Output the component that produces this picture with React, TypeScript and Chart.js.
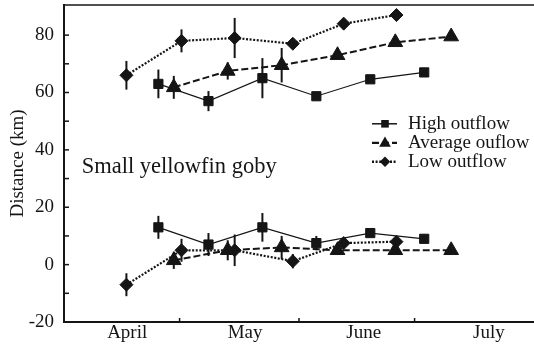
import React, { useEffect, useRef } from 'react';
import { Chart, registerables } from 'chart.js';
Chart.register(...registerables);

// ---- axis data ----
const monthLabels = ['April', 'May', 'June', 'July'];
const monthLabelDays = [16.4, 47, 77.8, 110.3];
const monthStartDays = [30, 61, 91];
const yTickValues = [-20, 0, 20, 40, 60, 80];
const yMinorTicks = [-10, 10, 30, 50, 70];

// ---- series data (x = days since April 1) ----
const highDays = [24.5, 37.5, 51.5, 65.5, 79.5, 93.5];
const highUpper = [63, 57, 65, 58.7, 64.6, 67];
const highUpperErr = [5, 3.5, 7, 1.2, 1.2, 1.5];
const highLower = [13, 7, 13, 7.5, 11, 9];
const highLowerErr = [4, 4, 5, 2.5, 1.2, 1.5];

const avgDays = [28.5, 42.5, 56.5, 71, 86, 100.5];
const avgUpper = [61.8, 67.5, 69.5, 73, 77.5, 79.5];
const avgUpperErr = [4, 3, 6, 0, 0, 0];
const avgLower = [1.5, 5, 6, 5, 5, 5];
const avgLowerErr = [3, 3.5, 4, 0, 0, 0];

const lowDays = [16.2, 30.5, 44.3, 59.4, 72.6, 86.3];
const lowUpper = [66, 78, 79, 77, 84, 87];
const lowUpperErr = [5, 4, 7, 0, 0, 0];
const lowLower = [-7, 5, 5, 1.2, 7.5, 8];
const lowLowerErr = [4, 4, 5.5, 2.5, 0, 0];

const seriesNames = ['High outflow', 'Average ouflow', 'Low outflow'];
const annotationText = 'Small yellowfin goby';
const yTitle = 'Distance (km)';

const INK = '#151515';
const SERIF = "'Liberation Serif', 'Times New Roman', serif";

type Style = { pointStyle: string; radius: number; dash: number[]; width: number };
const styles: Style[] = [
  { pointStyle: 'rect', radius: 6.5, dash: [], width: 1.2 },
  { pointStyle: 'triangle', radius: 8.5, dash: [7, 3], width: 2 },
  { pointStyle: 'rectRot', radius: 6.5, dash: [2, 1.6], width: 2.2 },
];

function makeDataset(days: number[], vals: number[], errs: number[], s: Style, label: string) {
  return {
    label,
    data: days.map((d, i) => ({ x: d, y: vals[i] })),
    errors: errs,
    borderColor: INK,
    backgroundColor: INK,
    borderWidth: s.width,
    borderDash: s.dash,
    pointStyle: s.pointStyle,
    pointRadius: s.radius,
    pointHoverRadius: s.radius,
    pointBackgroundColor: INK,
    pointBorderColor: INK,
    pointBorderWidth: 1,
    tension: 0,
    fill: false,
  } as any;
}

const errorBarPlugin = {
  id: 'errorBars',
  beforeDatasetsDraw(chart: any) {
    const { ctx } = chart;
    const ys = chart.scales.y;
    const xs = chart.scales.x;
    ctx.save();
    ctx.strokeStyle = INK;
    ctx.lineWidth = 2;
    chart.data.datasets.forEach((ds: any) => {
      ds.data.forEach((p: any, i: number) => {
        const e = ds.errors[i];
        if (!e) return;
        const px = xs.getPixelForValue(p.x);
        ctx.beginPath();
        ctx.moveTo(px, ys.getPixelForValue(p.y + e));
        ctx.lineTo(px, ys.getPixelForValue(p.y - e));
        ctx.stroke();
      });
    });
    ctx.restore();
  },
};

function drawMarker(ctx: CanvasRenderingContext2D, kind: string, x: number, y: number, r: number) {
  ctx.beginPath();
  if (kind === 'rect') {
    ctx.rect(x - r, y - r, 2 * r, 2 * r);
  } else if (kind === 'triangle') {
    ctx.moveTo(x, y - r * 1.1);
    ctx.lineTo(x + r, y + r * 0.7);
    ctx.lineTo(x - r, y + r * 0.7);
    ctx.closePath();
  } else {
    ctx.moveTo(x, y - r);
    ctx.lineTo(x + r, y);
    ctx.lineTo(x, y + r);
    ctx.lineTo(x - r, y);
    ctx.closePath();
  }
  ctx.fill();
}

const decorPlugin = {
  id: 'decor',
  afterDraw(chart: any) {
    const { ctx, chartArea } = chart;
    const xs = chart.scales.x;
    const ys = chart.scales.y;
    ctx.save();
    ctx.strokeStyle = INK;
    ctx.fillStyle = INK;
    // top frame line
    ctx.lineWidth = 1.5;
    ctx.beginPath();
    ctx.moveTo(chartArea.left, chartArea.top);
    ctx.lineTo(chartArea.right, chartArea.top);
    ctx.stroke();
    // inward y ticks
    ctx.lineWidth = 1.5;
    [...yTickValues, ...yMinorTicks].forEach((v) => {
      if (v === -20) return;
      const py = ys.getPixelForValue(v);
      ctx.beginPath();
      ctx.moveTo(chartArea.left, py);
      ctx.lineTo(chartArea.left + 5, py);
      ctx.stroke();
    });
    // inward x ticks at month boundaries
    monthStartDays.forEach((d) => {
      const px = xs.getPixelForValue(d);
      ctx.beginPath();
      ctx.moveTo(px, chartArea.bottom);
      ctx.lineTo(px, chartArea.bottom - 4);
      ctx.stroke();
    });
    // annotation
    ctx.font = `22.5px ${SERIF}`;
    ctx.textBaseline = 'alphabetic';
    ctx.textAlign = 'left';
    ctx.fillText(annotationText, xs.getPixelForValue(4.6), ys.getPixelForValue(32));
    // legend
    const lx0 = 372, lx1 = 397, mx = 385, tx = 408;
    const rows = [123.8, 142.8, 161.8];
    ctx.font = `19px ${SERIF}`;
    styles.forEach((s, i) => {
      const y = rows[i];
      ctx.lineWidth = s.width + 0.3;
      ctx.setLineDash(s.dash);
      ctx.beginPath();
      ctx.moveTo(lx0, y);
      ctx.lineTo(lx1, y);
      ctx.stroke();
      ctx.setLineDash([]);
      const r = s.pointStyle === 'rect' ? 3.8 : s.pointStyle === 'triangle' ? 5.8 : 5.2;
      drawMarker(ctx, s.pointStyle, mx, y, r);
      ctx.fillText(seriesNames[i], tx, y + 5.5);
    });
    ctx.restore();
  },
};

export default function App() {
  const ref = useRef<HTMLCanvasElement>(null);
  useEffect(() => {
    if (!ref.current) return;
    const datasets = [
      makeDataset(highDays, highUpper, highUpperErr, styles[0], seriesNames[0]),
      makeDataset(highDays, highLower, highLowerErr, styles[0], seriesNames[0]),
      makeDataset(avgDays, avgUpper, avgUpperErr, styles[1], seriesNames[1]),
      makeDataset(avgDays, avgLower, avgLowerErr, styles[1], seriesNames[1]),
      makeDataset(lowDays, lowUpper, lowUpperErr, styles[2], seriesNames[2]),
      makeDataset(lowDays, lowLower, lowLowerErr, styles[2], seriesNames[2]),
    ];
    const chart = new Chart(ref.current, {
      type: 'line',
      data: { datasets },
      options: {
        responsive: false,
        animation: false,
        devicePixelRatio: 1,
        layout: { autoPadding: false, padding: { top: 5, right: 0, left: 0, bottom: 0 } },
        plugins: { legend: { display: false }, tooltip: { enabled: false } },
        scales: {
          x: {
            type: 'linear',
            min: 0,
            max: 122,
            afterBuildTicks: (scale: any) => {
              scale.ticks = monthLabelDays.map((v) => ({ value: v }));
            },
            afterFit: (scale: any) => {
              scale.height = 26;
              scale.paddingLeft = 0;
              scale.paddingRight = 0;
            },
            ticks: {
              autoSkip: false,
              maxRotation: 0,
              padding: 0,
              color: INK,
              font: { family: SERIF, size: 19 },
              callback: (_v: any, i: number) => monthLabels[i],
            },
            grid: { display: true, drawOnChartArea: false, drawTicks: false },
            border: { display: true, width: 2, color: INK },
          },
          y: {
            type: 'linear',
            min: -20,
            max: 90.5,
            afterBuildTicks: (scale: any) => {
              scale.ticks = yTickValues.map((v) => ({ value: v }));
            },
            afterFit: (scale: any) => {
              scale.width = 64;
              scale.paddingTop = 0;
              scale.paddingBottom = 0;
            },
            ticks: {
              padding: 10,
              color: INK,
              font: { family: SERIF, size: 19 },
              callback: (v: any) => String(v),
            },
            grid: { display: true, drawOnChartArea: false, drawTicks: false },
            border: { display: true, width: 2, color: INK },
            title: {
              display: true,
              text: yTitle,
              color: INK,
              font: { family: SERIF, size: 19 },
              padding: { top: 7, bottom: 0 },
            },
          },
        },
      } as any,
      plugins: [errorBarPlugin, decorPlugin],
    });
    return () => chart.destroy();
  }, []);
  return (
    <div style={{ position: 'absolute', left: 0, top: 0, width: 534, height: 348, background: '#fff' }}>
      <canvas ref={ref} width={534} height={348} style={{ display: 'block' }} />
    </div>
  );
}
